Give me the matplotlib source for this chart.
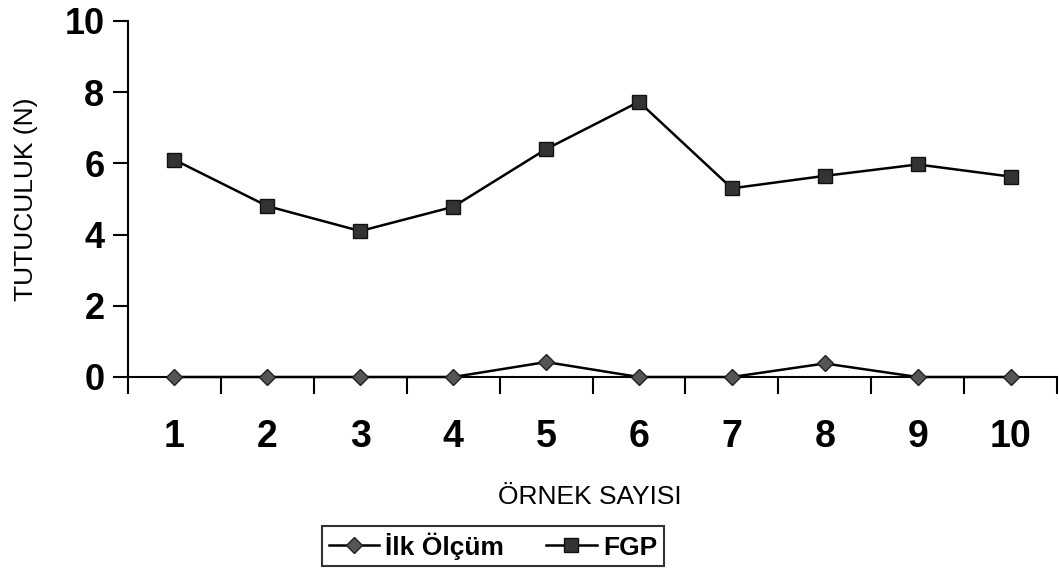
import matplotlib
matplotlib.use("Agg")
import matplotlib.pyplot as plt
import numpy as np

plt.rcParams['font.family'] = ['Liberation Sans', 'DejaVu Sans']

samples = [1, 2, 3, 4, 5, 6, 7, 8, 9, 10]
ilk_olcum = [0.0, 0.0, 0.0, 0.0, 0.42, 0.0, 0.0, 0.38, 0.0, 0.0]
fgp = [6.1, 4.8, 4.1, 4.78, 6.4, 7.73, 5.3, 5.65, 5.97, 5.63]
y_ticks = [0, 2, 4, 6, 8, 10]

fig = plt.figure(figsize=(10.59, 5.84), dpi=100)
ax = fig.add_axes([128/1059, 1 - 377/584, (1057 - 128)/1059, (377 - 21)/584])

ax.plot(samples, ilk_olcum, color='black', lw=1.8, marker='D', markersize=8,
        markerfacecolor='#555555', markeredgecolor='#222222', label='İlk Ölçüm',
        clip_on=False, zorder=3)
ax.plot(samples, fgp, color='black', lw=1.8, marker='s', markersize=10,
        markerfacecolor='#333333', markeredgecolor='#111111', label='FGP',
        clip_on=False, zorder=3)

ax.set_xlim(0.5, 10.5)
ax.set_ylim(0, 10)
ax.set_yticks(y_ticks)
ax.set_xticks(samples)
ax.set_xticks(np.arange(0.5, 11, 1), minor=True)
ax.tick_params(axis='x', which='major', length=0, pad=30, labelsize=27)
ax.tick_params(axis='x', which='minor', length=12, width=1.5, direction='out')
ax.tick_params(axis='y', length=11, width=1.5, direction='out', pad=6, labelsize=26)
for lbl in ax.get_xticklabels() + ax.get_yticklabels():
    lbl.set_fontweight('bold')

for side in ['top', 'right']:
    ax.spines[side].set_visible(False)
for side in ['left', 'bottom']:
    ax.spines[side].set_linewidth(1.5)

ax.set_ylabel('TUTUCULUK (N)', fontsize=19)
ax.yaxis.set_label_coords(-90/929, 0.5)
fig.text(590/1059, 1 - 497/584, 'ÖRNEK SAYISI', fontsize=19, ha='center', va='center')

leg = fig.legend(loc='center', bbox_to_anchor=(493/1059, 1 - 546/584), ncol=2,
                 prop={'size': 19, 'weight': 'bold'}, frameon=True, fancybox=False,
                 edgecolor='black', handlelength=1.9, columnspacing=1.6,
                 handletextpad=0.25, borderpad=0.25, borderaxespad=0)
leg.get_frame().set_linewidth(1.5)

fig.savefig('out.png', dpi=100)
